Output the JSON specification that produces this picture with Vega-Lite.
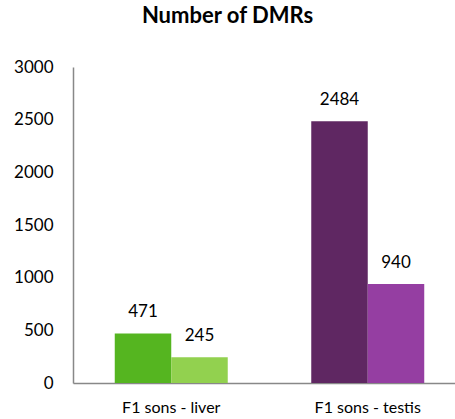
{
  "$schema": "https://vega.github.io/schema/vega-lite/v6.json",
  "autosize": "none",
  "width": 393,
  "height": 316,
  "padding": {"left": 73, "top": 67, "right": 0, "bottom": 36},
  "background": "white",
  "config": {
    "view": {"stroke": null},
    "font": "Lato"
  },
  "title": {
    "text": "Number of DMRs",
    "fontSize": 22,
    "fontWeight": "bold",
    "font": "Lato",
    "color": "#000000",
    "anchor": "middle",
    "dx": -42,
    "offset": 30
  },
  "data": {
    "values": [
      {"group": "F1 sons - liver", "series": "a", "value": 471, "color": "liver-a"},
      {"group": "F1 sons - liver", "series": "b", "value": 245, "color": "liver-b"},
      {"group": "F1 sons - testis", "series": "a", "value": 2484, "color": "testis-a"},
      {"group": "F1 sons - testis", "series": "b", "value": 940, "color": "testis-b"}
    ]
  },
  "encoding": {
    "x": {
      "field": "group",
      "type": "nominal",
      "scale": {"paddingInner": 0.425, "paddingOuter": 0.2125},
      "axis": {
        "title": null,
        "labelAngle": 0,
        "labelFontSize": 16,
        "labelColor": "#000000",
        "labelPadding": 16,
        "ticks": false,
        "domainColor": "#888888",
        "domainWidth": 1.5
      }
    },
    "xOffset": {"field": "series", "type": "nominal", "scale": {"paddingInner": 0, "paddingOuter": 0}},
    "y": {
      "field": "value",
      "type": "quantitative",
      "scale": {"domain": [0, 3000], "nice": false},
      "axis": {
        "title": null,
        "values": [0, 500, 1000, 1500, 2000, 2500, 3000],
        "format": "d",
        "grid": false,
        "ticks": false,
        "labelFontSize": 17,
        "labelColor": "#000000",
        "labelPadding": 20,
        "domainColor": "#888888",
        "domainWidth": 1.5
      }
    }
  },
  "layer": [
    {
      "mark": {"type": "bar"},
      "encoding": {
        "color": {
          "field": "color",
          "type": "nominal",
          "scale": {
            "domain": ["liver-a", "liver-b", "testis-a", "testis-b"],
            "range": ["#55B520", "#92D14F", "#5F2762", "#953EA2"]
          },
          "legend": null
        }
      }
    },
    {
      "mark": {"type": "text", "baseline": "bottom", "dy": -12, "fontSize": 17, "color": "#000000"},
      "encoding": {
        "text": {"field": "value", "type": "quantitative", "format": "d"}
      }
    }
  ]
}
